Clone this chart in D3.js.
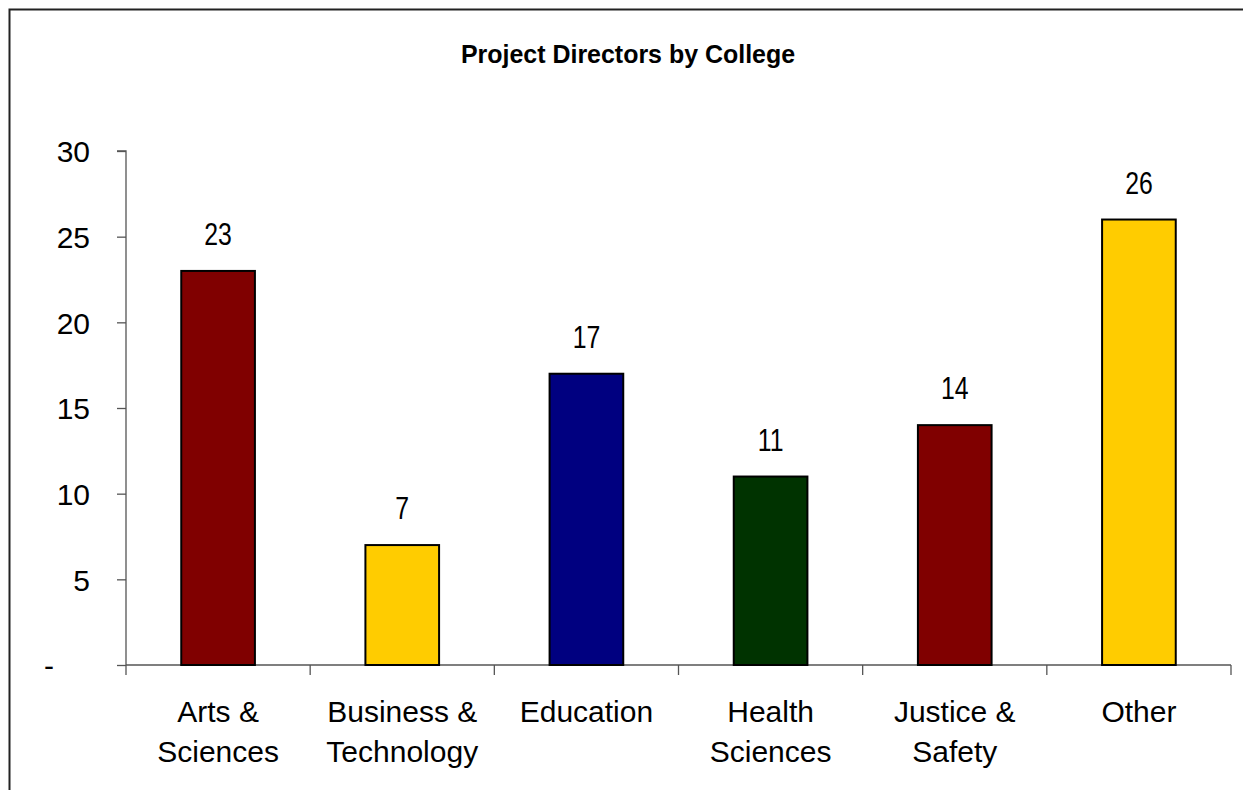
<!DOCTYPE html>
<html>
<head>
<meta charset="utf-8">
<script src="https://cdn.jsdelivr.net/npm/d3@7.9.0/dist/d3.min.js"></script>
<style>
  body { margin: 0; background: #fff; }
  svg { display: block; }
  .axis text { font-family: "Liberation Sans", Arial, sans-serif; font-size: 30px; fill: #000; }
</style>
</head>
<body>
<svg width="1243" height="790"></svg>
<script>
const colleges = [["Arts &", "Sciences"], ["Business &", "Technology"], ["Education"], ["Health", "Sciences"], ["Justice &", "Safety"], ["Other"]];
const directors = [23, 7, 17, 11, 14, 26];
const barColors = ["#800000", "#ffcc00", "#000080", "#003300", "#800000", "#ffcc00"];
const yTicks = [0, 5, 10, 15, 20, 25, 30];

const svg = d3.select('svg');

// outer frame, runs off the right and bottom edges
svg.append('rect')
  .attr('x', 9.5).attr('y', 9.5)
  .attr('width', 1260).attr('height', 800)
  .attr('fill', 'none').attr('stroke', '#222').attr('stroke-width', 2);

const plotLeft = 126, plotRight = 1231, plotTop = 151, plotBottom = 665;

let x = d3.scaleBand()
  .domain(colleges.map((d, i) => i))
  .range([plotLeft, plotRight])
  .paddingInner(0.6)
  .paddingOuter(0.3);

let y = d3.scaleLinear().domain([0, 30]).range([plotBottom, plotTop]);

// title, squeezed a little like the narrow face in the original
svg.append('text')
  .attr('transform', 'translate(628,63) scale(0.96,1)')
  .attr('text-anchor', 'middle')
  .attr('font-family', '"Liberation Sans", Arial, sans-serif')
  .attr('font-size', 26).attr('font-weight', 'bold')
  .text('Project Directors by College');

// y axis
let yAxis = svg.append('g')
  .attr('class', 'axis')
  .attr('transform', `translate(${plotLeft},0)`)
  .call(d3.axisLeft(y).tickValues(yTicks).tickSize(9).tickPadding(27)
    .tickFormat(d => d === 0 ? '-' : d));
yAxis.selectAll('line').attr('stroke', '#555').attr('stroke-width', 1.3);
yAxis.select('.domain').attr('stroke', '#555').attr('stroke-width', 1.3).attr('d', `M-9,${plotTop}H0V${plotBottom}`);
yAxis.selectAll('text').attr('dy', '0.36em')
  .attr('dx', d => d === 0 ? -36 : 0); // accounting-style dash sits further left

// x axis: ticks between categories
let step = (plotRight - plotLeft) / colleges.length;
let xAxis = svg.append('g').attr('transform', `translate(0,${plotBottom})`);
xAxis.append('line')
  .attr('x1', plotLeft).attr('x2', plotRight)
  .attr('stroke', '#555').attr('stroke-width', 1.3);
xAxis.selectAll('line.tick')
  .data(d3.range(colleges.length + 1))
  .join('line')
  .attr('class', 'tick')
  .attr('x1', d => plotLeft + d * step).attr('x2', d => plotLeft + d * step)
  .attr('y1', 0).attr('y2', 10)
  .attr('stroke', '#555').attr('stroke-width', 1.3);

// bars
svg.selectAll('rect.bar')
  .data(directors)
  .join('rect')
  .attr('class', 'bar')
  .attr('x', (d, i) => x(i))
  .attr('y', d => y(d))
  .attr('width', x.bandwidth())
  .attr('height', d => y(0) - y(d))
  .attr('fill', (d, i) => barColors[i])
  .attr('stroke', '#000').attr('stroke-width', 2);

// value labels (narrow digits)
svg.selectAll('text.val')
  .data(directors)
  .join('text')
  .attr('class', 'val')
  .attr('transform', (d, i) => `translate(${x(i) + x.bandwidth() / 2},${y(d) - 26}) scale(0.8,1)`)
  .attr('text-anchor', 'middle')
  .attr('font-family', '"Liberation Sans", Arial, sans-serif')
  .attr('font-size', 31)
  .text(d => d);

// category labels
colleges.forEach((lines, i) => {
  let t = svg.append('text')
    .attr('x', x(i) + x.bandwidth() / 2)
    .attr('y', 722)
    .attr('text-anchor', 'middle')
    .attr('font-family', '"Liberation Sans", Arial, sans-serif')
    .attr('font-size', 30);
  lines.forEach((ln, j) => {
    t.append('tspan').attr('x', x(i) + x.bandwidth() / 2).attr('dy', j === 0 ? 0 : 39.5).text(ln);
  });
});
</script>
</body>
</html>
